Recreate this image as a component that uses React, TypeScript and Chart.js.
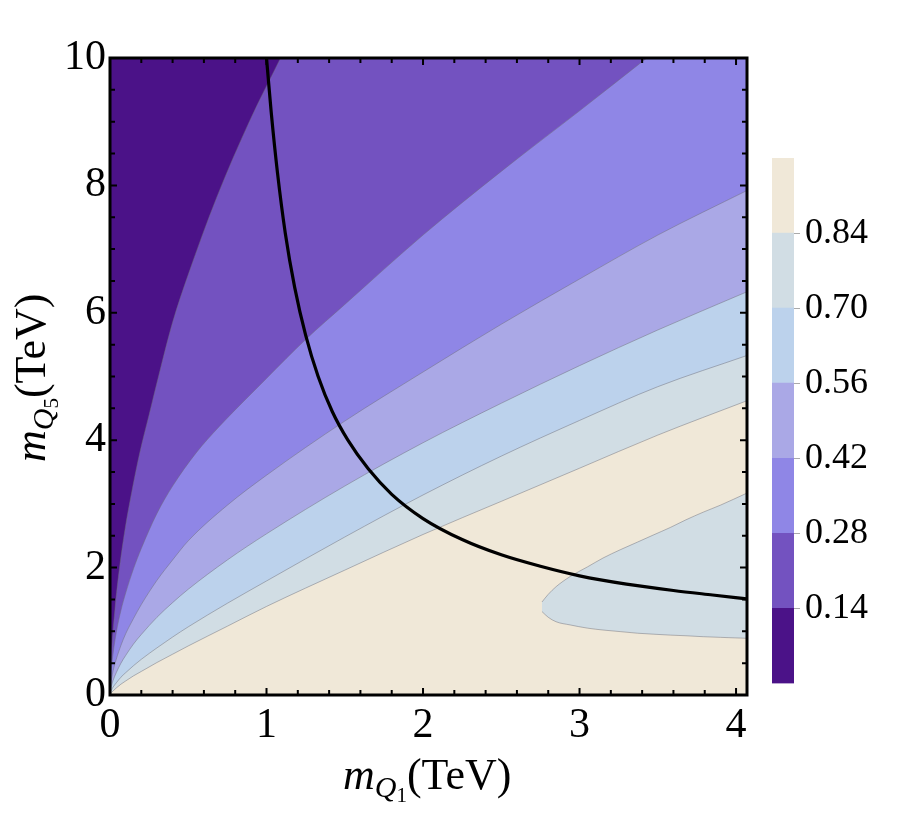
import React, { useEffect, useRef } from "react";
import { Chart, registerables } from "chart.js";

Chart.register(...registerables);

// ---- data ----
const xMin = 0;
const xMax = 4.07;
const yMin = 0;
const yMax = 10;
const xTickValues = [0, 1, 2, 3, 4];
const yTickValues = [0, 2, 4, 6, 8, 10];

// contour boundaries, from the steepest (top-left) to the flattest
const b1X = [0, 0.003, 0.01, 0.032, 0.06, 0.096, 0.14, 0.19, 0.25, 0.32, 0.4, 0.5, 0.68, 0.89, 1.1];
const b1Y = [0, 0.33, 0.68, 1.35, 1.98, 2.6, 3.2, 3.8, 4.4, 5.1, 5.85, 6.6, 7.8, 9.0, 10.05];
const b2X = [0, 0.002, 0.005, 0.01, 0.02, 0.04, 0.07, 0.1, 0.15, 0.2, 0.3, 0.4, 0.55, 0.7, 0.85, 1.0, 1.25, 1.5, 2.0, 2.5, 3.0, 3.43];
const b2Y = [0, 0.18, 0.3, 0.45, 0.66, 0.98, 1.33, 1.6, 1.98, 2.3, 2.85, 3.28, 3.8, 4.22, 4.6, 4.97, 5.58, 6.13, 7.22, 8.22, 9.17, 10.0];
const bX = [0, 0.002, 0.005, 0.01, 0.02, 0.04, 0.07, 0.1, 0.15, 0.2, 0.3, 0.4, 0.5, 0.75, 1.0, 1.5, 2.0, 2.5, 3.0, 3.5, 4.07];
const b3Y = [0, 0.1, 0.17, 0.25, 0.38, 0.56, 0.78, 0.96, 1.2, 1.42, 1.8, 2.12, 2.42, 2.98, 3.45, 4.3, 5.07, 5.82, 6.53, 7.22, 7.92];
const b4Y = [0, 0.06, 0.1, 0.15, 0.23, 0.35, 0.5, 0.62, 0.8, 0.95, 1.22, 1.45, 1.66, 2.12, 2.53, 3.28, 3.96, 4.58, 5.17, 5.73, 6.33];
const b5Y = [0, 0.03, 0.05, 0.08, 0.125, 0.19, 0.28, 0.35, 0.46, 0.56, 0.74, 0.91, 1.07, 1.44, 1.79, 2.48, 3.14, 3.75, 4.31, 4.84, 5.33];
const b6Y = [0, 0.012, 0.025, 0.04, 0.065, 0.11, 0.17, 0.22, 0.3, 0.37, 0.51, 0.64, 0.77, 1.08, 1.39, 1.96, 2.52, 3.04, 3.56, 4.08, 4.62];

// island of the 0.70-0.84 band in the lower right
const islandX = [2.76, 2.8, 2.85, 2.94, 3.05, 3.15, 3.26, 3.37, 3.47, 3.58, 3.68, 3.79, 3.9, 4.07];
const islandUpper = [1.46, 1.58, 1.7, 1.86, 2.01, 2.15, 2.28, 2.4, 2.51, 2.63, 2.75, 2.87, 2.98, 3.17];
const islandLower = [1.31, 1.22, 1.15, 1.1, 1.05, 1.02, 0.995, 0.97, 0.955, 0.94, 0.93, 0.915, 0.905, 0.89];

// black curve
const curveX = [1.0, 1.03, 1.07, 1.12, 1.18, 1.25, 1.33, 1.42, 1.52, 1.65, 1.8, 2.0, 2.25, 2.5, 2.75, 3.0, 3.3, 3.6, 3.85, 4.07];
const curveY = [10.0, 9.15, 8.2, 7.25, 6.4, 5.65, 5.0, 4.45, 4.0, 3.55, 3.15, 2.77, 2.44, 2.2, 2.02, 1.87, 1.74, 1.64, 1.57, 1.51];

// colour bar
const levelStep = 0.14;
const levelTicks = [0.14, 0.28, 0.42, 0.56, 0.7, 0.84];
const bandValues = [0.14, 0.14, 0.14, 0.14, 0.14, 0.14, 0.14];
const bandColors = ["#4b1288", "#7352c0", "#8f86e6", "#aaa8e6", "#bcd2ec", "#d1dde4", "#f0e8d8"];

const SERIF = '"Liberation Serif", "Times New Roman", serif';

function pts(xs: number[], ys: number[]) {
  return xs.map((x, i) => ({ x, y: ys[i] }));
}

function drawMixed(ctx: CanvasRenderingContext2D, parts: { t: string; f: string; dy: number }[], x: number, y: number) {
  let cx = x;
  for (const p of parts) {
    ctx.font = p.f;
    ctx.fillText(p.t, cx, y + p.dy);
    cx += ctx.measureText(p.t).width;
  }
}

export default function App() {
  const mainRef = useRef<HTMLCanvasElement>(null);
  const barRef = useRef<HTMLCanvasElement>(null);

  useEffect(() => {
    const line = "rgba(110,110,120,0.6)";
    const boundary = (xs: number[], ys: number[], color: string) => ({
      data: pts(xs, ys),
      showLine: true,
      borderColor: line,
      borderWidth: 0.8,
      backgroundColor: color,
      fill: "end",
      pointRadius: 0,
      cubicInterpolationMode: "monotone",
    });

    const titleParts = (sub: string) => [
      { t: "m", f: `italic 44px ${SERIF}`, dy: 0 },
      { t: "Q", f: `italic 30px ${SERIF}`, dy: 8 },
      { t: sub, f: `21px ${SERIF}`, dy: 13 },
      { t: "(TeV)", f: `44px ${SERIF}`, dy: 0 },
    ];

    const framePlugin = {
      id: "frame",
      beforeDraw(chart: any) {
        const { ctx, chartArea: a } = chart;
        ctx.save();
        ctx.fillStyle = bandColors[6];
        ctx.fillRect(a.left, a.top, a.right - a.left, a.bottom - a.top);
        ctx.restore();
      },
      afterDraw(chart: any) {
        const { ctx, chartArea: a } = chart;
        const xs = chart.scales.x;
        const ys = chart.scales.y;
        ctx.save();
        ctx.strokeStyle = "#000";
        ctx.lineWidth = 2;
        ctx.beginPath();
        for (let i = 0; i <= 20; i++) {
          const v = i * 0.2;
          if (v > xMax) break;
          const px = xs.getPixelForValue(v);
          const len = i % 5 === 0 ? 7 : 5;
          ctx.moveTo(px, a.bottom);
          ctx.lineTo(px, a.bottom - len);
          ctx.moveTo(px, a.top);
          ctx.lineTo(px, a.top + len);
        }
        for (let i = 0; i <= 20; i++) {
          const v = i * 0.5;
          const py = ys.getPixelForValue(v);
          const len = i % 4 === 0 ? 7 : 5;
          ctx.moveTo(a.left, py);
          ctx.lineTo(a.left + len, py);
          ctx.moveTo(a.right, py);
          ctx.lineTo(a.right - len, py);
        }
        ctx.stroke();
        ctx.lineWidth = 3;
        ctx.strokeRect(a.left, a.top, a.right - a.left, a.bottom - a.top);

        ctx.fillStyle = "#000";
        ctx.textBaseline = "alphabetic";
        ctx.textAlign = "left";
        drawMixed(ctx, titleParts("1"), 343, 789);
        ctx.translate(45, 462);
        ctx.rotate(-Math.PI / 2);
        drawMixed(ctx, titleParts("5"), 0, 0);
        ctx.restore();
      },
    };

    const main = new Chart(mainRef.current!, {
      type: "scatter",
      data: {
        datasets: [
          {
            data: pts(curveX, curveY),
            showLine: true,
            borderColor: "#000",
            borderWidth: 3.2,
            pointRadius: 0,
            fill: false,
            cubicInterpolationMode: "monotone",
          } as any,
          boundary(b1X, b1Y, bandColors[0]),
          boundary(b2X, b2Y, bandColors[1]),
          boundary(bX, b3Y, bandColors[2]),
          boundary(bX, b4Y, bandColors[3]),
          boundary(bX, b5Y, bandColors[4]),
          boundary(bX, b6Y, bandColors[5]),
          {
            data: pts(islandX, islandUpper),
            showLine: true,
            borderColor: line,
            borderWidth: 0.8,
            pointRadius: 0,
            fill: false,
            cubicInterpolationMode: "monotone",
          },
          {
            data: pts(islandX, islandLower),
            showLine: true,
            borderColor: line,
            borderWidth: 0.8,
            backgroundColor: bandColors[5],
            pointRadius: 0,
            fill: "-1",
            cubicInterpolationMode: "monotone",
          },
        ] as any,
      },
      options: {
        responsive: false,
        maintainAspectRatio: false,
        animation: false,
        events: [],
        layout: { padding: { left: 0, top: 58, right: 170, bottom: 0 } },
        plugins: { legend: { display: false }, tooltip: { enabled: false } },
        scales: {
          x: {
            type: "linear",
            min: xMin,
            max: xMax,
            grid: { display: false, drawTicks: false },
            border: { display: false },
            afterBuildTicks: (s: any) => {
              s.ticks = xTickValues.map((v) => ({ value: v }));
            },
            afterFit: (s: any) => {
              s.height = 118;
            },
            ticks: {
              padding: 6,
              color: "#000",
              font: { family: SERIF, size: 42 },
              callback: (v: any) => String(v),
            },
          },
          y: {
            type: "linear",
            min: yMin,
            max: yMax,
            grid: { display: false, drawTicks: false },
            border: { display: false },
            afterBuildTicks: (s: any) => {
              s.ticks = yTickValues.map((v) => ({ value: v }));
            },
            afterFit: (s: any) => {
              s.width = 110;
            },
            ticks: {
              padding: 4,
              color: "#000",
              font: { family: SERIF, size: 42 },
              callback: (v: any) => String(v),
            },
          },
        },
      } as any,
      plugins: [framePlugin],
    });

    const bar = new Chart(barRef.current!, {
      type: "bar",
      data: {
        labels: [""],
        datasets: bandValues.map((v, i) => ({
          data: [v],
          backgroundColor: bandColors[i],
          borderWidth: 0,
          barPercentage: 1,
          categoryPercentage: 1,
        })),
      },
      options: {
        responsive: false,
        maintainAspectRatio: false,
        animation: false,
        events: [],
        layout: { padding: { left: 12, top: 28, right: 0, bottom: 20 } },
        plugins: { legend: { display: false }, tooltip: { enabled: false } },
        scales: {
          x: { display: false, stacked: true },
          y: {
            stacked: true,
            position: "right",
            min: 0,
            max: levelStep * bandValues.length,
            grid: { drawOnChartArea: false, drawTicks: true, tickLength: 6, color: "#aaaaaa", lineWidth: 1 },
            border: { display: false },
            afterBuildTicks: (s: any) => {
              s.ticks = levelTicks.map((v) => ({ value: v }));
            },
            afterFit: (s: any) => {
              s.width = 123;
            },
            ticks: {
              padding: 5,
              color: "#000",
              font: { family: SERIF, size: 36 },
              callback: (v: any) => Number(v).toFixed(2),
            },
          },
        },
      } as any,
    });

    return () => {
      main.destroy();
      bar.destroy();
    };
  }, []);

  return (
    <div style={{ position: "absolute", left: 0, top: 0, width: 917, height: 813, background: "#fff" }}>
      <canvas ref={mainRef} width={917} height={813} style={{ position: "absolute", left: 0, top: 0 }} />
      <canvas ref={barRef} width={157} height={580} style={{ position: "absolute", left: 760, top: 130 }} />
    </div>
  );
}
